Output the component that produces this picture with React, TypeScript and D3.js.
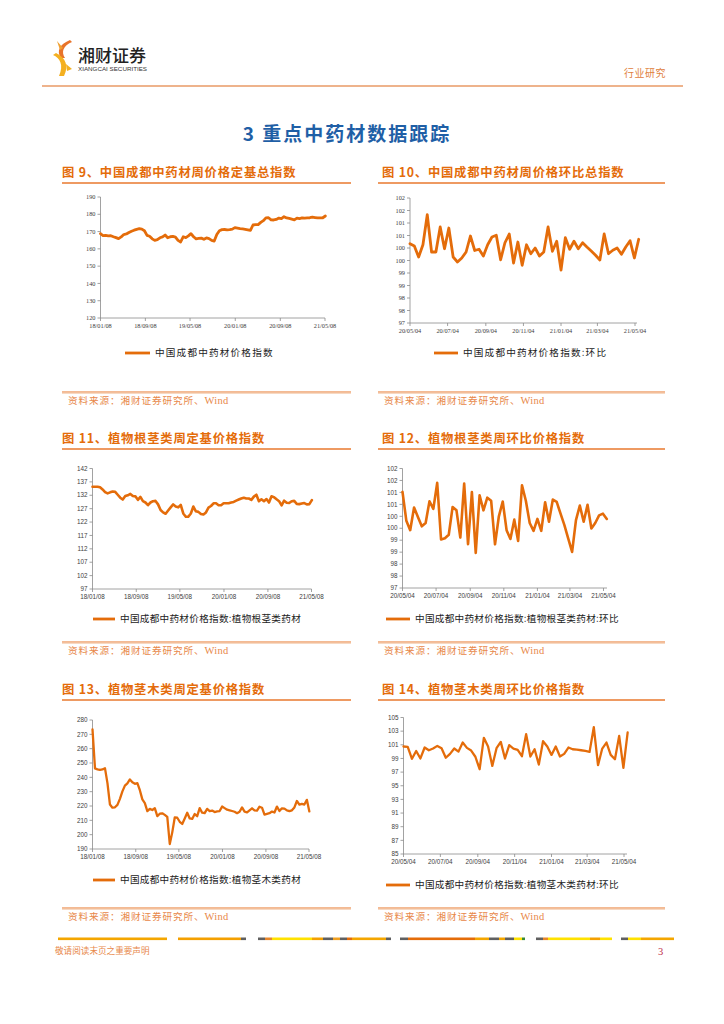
import React from 'react';
import * as d3 from 'd3';

const ORANGE = '#e46c0a';
const AXIS = '#8a8a8a';
const TICK_TEXT = '#404040';
const CJK = '"Noto Sans CJK SC", "Noto Sans", sans-serif';

// ---------- data ----------
const fixedStart = '2018-01-08';
const fixedEnd = '2021-05-08';
const weeklyStart = '2020-05-04';
const weeklyEnd = '2021-05-04';
const fixedXTicks = ['2018-01-08', '2018-09-08', '2019-05-08', '2020-01-08', '2020-09-08', '2021-05-08'];
const weeklyXTicks = ['2020-05-04', '2020-07-04', '2020-09-04', '2020-11-04', '2021-01-04', '2021-03-04', '2021-05-04'];

const fig9YTicks = [120, 130, 140, 150, 160, 170, 180, 190];
const fig10YTicks = [97, 97.5, 98, 98.5, 99, 99.5, 100, 100.5, 101, 101.5, 102];
const fig11YTicks = [97, 102, 107, 112, 117, 122, 127, 132, 137, 142];
const fig12YTicks = [97, 97.5, 98, 98.5, 99, 99.5, 100, 100.5, 101, 101.5, 102];
const fig13YTicks = [190, 200, 210, 220, 230, 240, 250, 260, 270, 280];
const fig14YTicks = [85, 87, 89, 91, 93, 95, 97, 99, 101, 103, 105];

// 定基总指数 (biweekly readings)
const fig9Values = [
  168.8, 167.6, 167.8, 167.5, 167.6, 167.0, 166.5, 165.9, 166.9, 168.3,
  168.6, 169.5, 170.2, 170.8, 171.3, 171.7, 171.4, 170.5, 167.8, 167.3,
  165.8, 164.9, 165.3, 166.4, 166.9, 168.0, 166.4, 167.0, 167.2, 166.8,
  164.9, 164.0, 167.0, 166.5, 167.5, 168.8, 167.0, 165.8, 166.0, 166.2,
  165.5, 166.3, 165.9, 164.9, 164.5, 168.3, 170.5, 171.1, 171.2, 171.0,
  171.1, 171.4, 172.3, 172.0, 171.7, 171.5, 171.3, 171.0, 170.7, 173.8,
  174.0, 174.0, 175.3, 176.3, 177.9, 178.0, 176.8, 176.7, 177.0, 177.8,
  177.5, 178.6, 177.9, 177.6, 177.2, 176.8, 177.8, 177.5, 177.9, 177.8,
  177.9, 178.0, 178.3, 178.1, 177.9, 177.9, 178.0, 179.0,
];

// 环比总指数 (weekly)
const fig10Values = [
  100.17, 100.08, 99.64, 100.13, 101.33, 99.84, 99.84, 100.84, 99.97, 100.8,
  99.64, 99.44, 99.6, 99.84, 100.48, 99.9, 99.95, 99.68, 100.13, 100.44,
  100.51, 99.53, 100.21, 100.56, 99.4, 100.24, 99.31, 100.13, 99.77, 100.0,
  99.68, 99.84, 100.84, 99.87, 100.27, 99.12, 100.41, 99.95, 100.27, 99.97,
  100.21, 100.04, 99.88, 99.71, 99.52, 100.56, 99.77, 99.91, 100.0, 99.75,
  100.04, 100.29, 99.6, 100.35,
];

// 根茎类定基 (biweekly)
const fig11Values = [
  135.2, 135.2, 135.2, 135.0, 134.2, 133.2, 132.7, 133.1, 133.4, 133.3,
  132.2, 131.1, 130.4, 131.7, 132.0, 132.5, 131.7, 131.6, 130.3, 131.4,
  129.8, 129.3, 128.3, 129.3, 129.8, 129.9, 128.6, 126.5, 125.6, 125.1,
  126.3, 127.5, 128.6, 127.8, 127.5, 128.4, 125.2, 124.0, 124.0, 125.2,
  127.8, 126.0, 125.8, 125.0, 124.8, 125.6, 127.4, 128.0, 129.0, 129.0,
  128.3, 128.3, 129.0, 129.0, 129.0, 129.3, 129.5, 130.0, 130.4, 130.8,
  131.1, 130.8, 130.8, 130.3, 131.5, 132.2, 129.8, 130.5, 129.8, 130.6,
  129.3, 131.6, 131.3, 130.5, 129.8, 128.2, 130.0, 129.2, 129.1, 129.8,
  129.9, 128.8, 128.7, 128.9, 129.1, 128.6, 128.7, 130.2,
];

// 根茎类环比 (weekly)
const fig12Values = [
  101.02, 99.81, 99.42, 100.37, 99.97, 99.58, 99.72, 100.63, 100.31, 101.4,
  99.03, 99.08, 99.23, 100.39, 100.25, 99.11, 101.37, 98.83, 101.01, 98.47,
  100.88, 100.25, 100.78, 100.65, 98.83, 100.0, 100.62, 99.42, 99.05, 99.86,
  98.97, 101.3, 100.65, 99.72, 99.39, 99.89, 99.39, 100.59, 99.77, 100.7,
  100.6, 100.11, 99.63, 99.07, 98.51, 99.84, 100.45, 99.77, 100.48, 99.49,
  99.72, 100.04, 100.11, 99.89,
];

// 茎木类定基 (biweekly)
const fig13Values = [
  273.5, 246.2, 245.6, 245.2, 245.5, 246.4, 236.0, 221.0, 218.8, 219.1,
  220.8, 225.0, 230.2, 234.2, 235.8, 238.5, 236.5, 235.5, 235.9, 231.0,
  224.6, 222.0, 216.4, 218.0, 217.2, 218.5, 213.0, 214.6, 214.9, 213.8,
  212.4, 193.5, 201.6, 212.0, 211.8, 209.0, 207.5, 211.3, 215.3, 211.3,
  211.0, 214.4, 212.9, 218.5, 215.3, 215.0, 218.0, 216.5, 216.8, 215.8,
  216.2, 216.5, 219.6, 218.5, 217.4, 217.0, 216.5, 216.0, 215.0, 216.0,
  219.0, 216.1, 215.6, 217.0, 218.4, 217.0, 216.8, 219.5, 218.8, 214.0,
  214.5, 215.0, 216.1, 215.5, 219.6, 216.5, 218.4, 218.2, 216.9, 216.4,
  217.0, 219.0, 223.5, 221.0, 221.5, 221.0, 224.3, 216.2,
];

// 茎木类环比 (weekly)
const fig14Values = [
  100.75, 100.7, 98.95, 100.1, 99.0, 100.6, 100.2, 100.45, 100.84, 100.5,
  99.1, 99.67, 100.45, 100.0, 101.33, 100.55, 100.16, 99.25, 97.42, 102.02,
  100.75, 97.91, 100.5, 101.43, 98.99, 100.94, 100.45, 100.26, 99.33, 102.56,
  99.28, 100.35, 98.11, 101.53, 100.75, 99.52, 100.75, 99.28, 99.67, 100.6,
  100.35, 100.28, 100.2, 100.1, 99.96, 103.58, 98.01, 100.45, 101.33, 99.52,
  98.89, 102.31, 97.62, 102.8,
];

const figTitles = [
  '图 9、中国成都中药材周价格定基总指数',
  '图 10、中国成都中药材周价格环比总指数',
  '图 11、植物根茎类周定基价格指数',
  '图 12、植物根茎类周环比价格指数',
  '图 13、植物茎木类周定基价格指数',
  '图 14、植物茎木类周环比价格指数',
];
const legendLabels = [
  '中国成都中药材价格指数',
  '中国成都中药材价格指数:环比',
  '中国成都中药材价格指数:植物根茎类药材',
  '中国成都中药材价格指数:植物根茎类药材:环比',
  '中国成都中药材价格指数:植物茎木类药材',
  '中国成都中药材价格指数:植物茎木类药材:环比',
];
const sourceCn = '资料来源：湘财证券研究所、';
const sourceEn = 'Wind';

// ---------- helpers ----------
const parse = d3.timeParse('%Y-%m-%d');
const fmtDate = d3.timeFormat('%y/%m/%d');
const SERIF = '"Liberation Serif", "DejaVu Serif", serif';
const SANS = '"Liberation Sans", Arial, sans-serif';

type ChartProps = {
  left: number; right: number; top: number; bottom: number; axisEnd: number;
  start: string; end: string; xTicks: string[]; yTicks: number[];
  yFormat: (v: number) => string; values: number[]; stepDays: number;
  strokeWidth: number; font: string;
};

function Chart(p: ChartProps) {
  const x = d3.scaleTime().domain([parse(p.start)!, parse(p.end)!]).range([p.left, p.right]);
  const y = d3.scaleLinear().domain([p.yTicks[0], p.yTicks[p.yTicks.length - 1]]).range([p.bottom, p.top]);
  const d0 = parse(p.start)!;
  const pts: [Date, number][] = p.values.map((v, i) => [d3.timeDay.offset(d0, i * p.stepDays), v]);
  const path = d3.line<[Date, number]>().x(d => x(d[0])).y(d => y(d[1]))(pts) || '';
  return (
    <g>
      <line x1={p.left} x2={p.left} y1={p.top} y2={p.bottom} stroke={AXIS} strokeWidth={0.8} />
      {p.yTicks.map(t => (
        <g key={t}>
          <line x1={p.left - 3} x2={p.left} y1={y(t)} y2={y(t)} stroke={AXIS} strokeWidth={0.8} />
          <text x={p.left - 5} y={y(t)} dy="0.35em" textAnchor="end" fontSize={6.3} fill={TICK_TEXT} fontFamily={p.font}>{p.yFormat(t)}</text>
        </g>
      ))}
      <line x1={p.left} x2={p.axisEnd} y1={p.bottom} y2={p.bottom} stroke={AXIS} strokeWidth={0.8} />
      {p.xTicks.map(t => {
        const xx = x(parse(t)!);
        return (
          <g key={t}>
            <line x1={xx} x2={xx} y1={p.bottom} y2={p.bottom + 3} stroke={AXIS} strokeWidth={0.8} />
            <text x={xx} y={p.bottom + 10} textAnchor="middle" fontSize={6.3} fill={TICK_TEXT} fontFamily={p.font}>{fmtDate(parse(t)!)}</text>
          </g>
        );
      })}
      <path d={path} fill="none" stroke={ORANGE} strokeWidth={p.strokeWidth} strokeLinejoin="round" strokeLinecap="round" />
    </g>
  );
}

function FigTitle({ x, y, lineX1, lineX2, text }: { x: number; y: number; lineX1: number; lineX2: number; text: string }) {
  return (
    <g>
      <text x={x} y={y} fontSize={12.3} fontWeight={700} fill={ORANGE} fontFamily={CJK} letterSpacing={0.8}>{text}</text>
      <line x1={lineX1} x2={lineX2} y1={y + 6} y2={y + 6} stroke="#e8782e" strokeWidth={1.3} />
    </g>
  );
}

function Legend({ x1, x2, y, text, ls }: { x1: number; x2: number; y: number; text: string; ls: number }) {
  return (
    <g>
      <line x1={x1} x2={x2} y1={y} y2={y} stroke={ORANGE} strokeWidth={2.8} />
      <text x={x2 + 5} y={y} dy="0.35em" fontSize={9.6} fill="#222" fontFamily={CJK} letterSpacing={ls}>{text}</text>
    </g>
  );
}

function Source({ x1, x2, y }: { x1: number; x2: number; y: number }) {
  return (
    <g>
      <line x1={x1} x2={x2} y1={y} y2={y} stroke="#e8762a" strokeWidth={1.2} />
      <line x1={x1} x2={x2} y1={y + 1.2} y2={y + 1.2} stroke="#f3c9a8" strokeWidth={1} />
      <text x={x1 + 6} y={y + 12} fontSize={9.6} fill="#e8884a" fontFamily={CJK} letterSpacing={0.9}>
        {sourceCn}
        <tspan fontFamily={SERIF} fontSize={10.5} letterSpacing={0.3}>{sourceEn}</tspan>
      </text>
    </g>
  );
}

const footerSegs: [number, number, string][] = [
  [58, 167, '#f4a600'],
  [178, 241, '#f4a000'], [241, 246, '#606060'],
  [258, 265, '#606060'], [265, 272, '#e8862a'], [272, 312, '#ffe200'], [312, 323, '#f4a000'], [323, 333, '#606060'],
  [333, 340, '#f0a020'], [340, 347, '#606060'], [347, 352, '#e46c0a'], [352, 386, '#f4a600'], [386, 391, '#606060'],
  [400, 408, '#606060'], [408, 475, '#e46c0a'], [475, 489, '#f4a600'], [489, 499, '#606060'], [499, 505, '#f4a600'],
  [505, 514, '#606060'], [514, 522, '#ffe200'], [522, 525, '#3a8a3a'],
  [536, 543, '#606060'], [543, 548, '#e8862a'], [548, 590, '#ffe200'], [590, 600, '#f4a000'], [600, 612, '#ffe200'],
  [621, 628, '#606060'], [628, 641, '#ffe200'], [641, 674, '#f4a600'],
];

export default function App() {
  const roundFmt = (v: number) => String(Math.round(v));
  const intFmt = (v: number) => String(v);
  return (
    <div style={{ position: 'absolute', left: 0, top: 0 }}>
      <svg width={724} height={1024} style={{ display: 'block', background: '#fff' }}>
        <rect width={724} height={1024} fill="#fff" />
        {/* header logo */}
        <path d="M70 40 C60 44 56 51 61 58 L65 58 C61 52 63 46 72 42 Z" fill="#e8742a" />
        <path d="M57 41 L63 48 L60 50 Z" fill="#f0a030" />
        <path d="M53 55 C60 58 64 65 59 76 L64 76 C69 66 66 58 56 53 Z" fill="#f4b020" />
        <path d="M66 64 L72 69 L67 71 Z" fill="#f4b020" />
        <text x={78} y={62} fontSize={17} fontWeight={500} fill="#222" fontFamily={CJK}>湘财证券</text>
        <text x={78} y={70.5} fontSize={5.6} fill="#333" fontFamily={SANS} textLength={69} lengthAdjust="spacingAndGlyphs">XIANGCAI SECURITIES</text>
        <text x={624} y={77} fontSize={10} fill="#e0803c" fontFamily={CJK} letterSpacing={0.5}>行业研究</text>
        <line x1={42} x2={683} y1={86} y2={86} stroke="#e89a66" strokeWidth={1.6} />

        <text x={347} y={141} textAnchor="middle" fontSize={19} fontWeight={700} fill="#1f5fa6" fontFamily={CJK} letterSpacing={2}>3 重点中药材数据跟踪</text>

        <FigTitle x={62} y={177} lineX1={62} lineX2={351} text={figTitles[0]} />
        <FigTitle x={382} y={177} lineX1={378} lineX2={665} text={figTitles[1]} />
        <FigTitle x={62} y={443} lineX1={62} lineX2={351} text={figTitles[2]} />
        <FigTitle x={382} y={443} lineX1={378} lineX2={665} text={figTitles[3]} />
        <FigTitle x={62} y={694} lineX1={62} lineX2={351} text={figTitles[4]} />
        <FigTitle x={382} y={694} lineX1={378} lineX2={665} text={figTitles[5]} />

        <Chart left={100.5} right={325} top={197} bottom={318} axisEnd={325} start={fixedStart} end={fixedEnd}
          xTicks={fixedXTicks} yTicks={fig9YTicks} yFormat={intFmt} values={fig9Values} stepDays={14} strokeWidth={2.8} font={SERIF} />
        <Chart left={410} right={635} top={198} bottom={323} axisEnd={637} start={weeklyStart} end={weeklyEnd}
          xTicks={weeklyXTicks} yTicks={fig10YTicks} yFormat={roundFmt} values={fig10Values} stepDays={7} strokeWidth={2.8} font={SERIF} />
        <Chart left={92.5} right={311.5} top={468.5} bottom={589} axisEnd={311.5} start={fixedStart} end={fixedEnd}
          xTicks={fixedXTicks} yTicks={fig11YTicks} yFormat={intFmt} values={fig11Values} stepDays={14} strokeWidth={2.6} font={SANS} />
        <Chart left={402.5} right={603.5} top={468.5} bottom={588} axisEnd={607} start={weeklyStart} end={weeklyEnd}
          xTicks={weeklyXTicks} yTicks={fig12YTicks} yFormat={roundFmt} values={fig12Values} stepDays={7} strokeWidth={2.6} font={SANS} />
        <Chart left={92.5} right={309} top={720} bottom={849} axisEnd={309} start={fixedStart} end={fixedEnd}
          xTicks={fixedXTicks} yTicks={fig13YTicks} yFormat={intFmt} values={fig13Values} stepDays={14} strokeWidth={2.3} font={SANS} />
        <Chart left={403.5} right={624} top={717.5} bottom={854} axisEnd={627} start={weeklyStart} end={weeklyEnd}
          xTicks={weeklyXTicks} yTicks={fig14YTicks} yFormat={intFmt} values={fig14Values} stepDays={7} strokeWidth={2.3} font={SANS} />

        <Legend x1={125} x2={150} y={353} text={legendLabels[0]} ls={1.2} />
        <Legend x1={434} x2={458} y={353} text={legendLabels[1]} ls={1.2} />
        <Legend x1={93} x2={115} y={619} text={legendLabels[2]} ls={0.3} />
        <Legend x1={386} x2={410} y={619} text={legendLabels[3]} ls={0.3} />
        <Legend x1={93} x2={115} y={880} text={legendLabels[4]} ls={0.3} />
        <Legend x1={386} x2={410} y={885} text={legendLabels[5]} ls={0.3} />

        <Source x1={62} x2={351} y={392} />
        <Source x1={378} x2={665} y={392} />
        <Source x1={62} x2={351} y={642} />
        <Source x1={378} x2={665} y={642} />
        <Source x1={62} x2={351} y={908} />
        <Source x1={378} x2={665} y={908} />

        {footerSegs.map(([a, b, c], i) => (
          <rect key={i} x={a} y={937.5} width={b - a} height={2.6} fill={c} />
        ))}
        <text x={55} y={954} fontSize={8.6} fill="#e8884a" fontFamily={CJK}>敬请阅读末页之重要声明</text>
        <text x={658} y={955} fontSize={10.5} fill="#c0304a" fontFamily={SERIF}>3</text>
      </svg>
    </div>
  );
}
